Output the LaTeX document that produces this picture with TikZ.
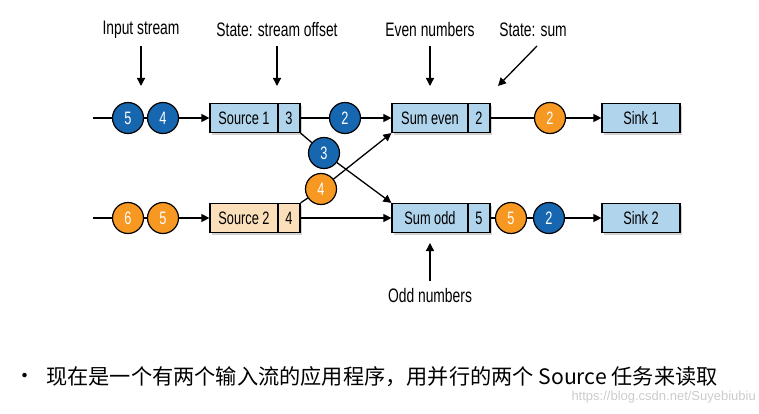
\documentclass[tikz,border=0pt]{standalone}
\usepackage{fontspec}
\setmainfont[FakeStretch=0.71]{Liberation Sans}
\newfontfamily\cjk{Noto Sans CJK SC}
\newfontfamily\wmfont{Liberation Sans}
\usetikzlibrary{arrows.meta,shadows}
\definecolor{bluedot}{RGB}{22,102,176}
\definecolor{orangedot}{RGB}{246,152,34}
\definecolor{boxblue}{RGB}{176,212,236}
\definecolor{boxpeach}{RGB}{251,222,186}
\begin{document}
\begin{tikzpicture}[x=1pt,y=-1pt,
  every node/.style={font=\fontsize{18}{19}\selectfont},
  conn/.style={line width=1.3pt,draw=black},
  arr/.style={conn,-{Triangle[length=8pt,width=8pt]}},
  opbox/.style={draw=black,line width=1.2pt,fill=boxblue,minimum height=29pt,inner sep=0pt,
    drop shadow={shadow xshift=2pt,shadow yshift=-2.5pt,opacity=0.35}},
  peach/.style={opbox,fill=boxpeach},
  dot/.style={circle,draw=black,line width=1.2pt,minimum size=31pt,inner sep=0pt,text=white},
  bdot/.style={dot,fill=bluedot},
  odot/.style={dot,fill=orangedot},
  lbl/.style={inner sep=0pt,font=\fontsize{19.5}{21}\selectfont},
  plain/.style={inner sep=0pt}
]
\useasboundingbox (0,0) rectangle (759,414);
\fill[white] (0,0) rectangle (759,414);

% labels
\node[lbl] (linput) at (141,30) {Input stream};
\node[lbl] (lstate) at (277,30) {State: stream offset};
\node[lbl] (leven) at (430,30) {Even numbers};
\node[lbl] (lsum) at (533,30) {State: sum};
\node[lbl] (lodd) at (430,296) {Odd numbers};
\coordinate (ainput) at (141,46);
\coordinate (astate) at (277,46);
\coordinate (aeven) at (430,46);
\coordinate (asum) at (537,46);
\coordinate (aodd) at (430,281);
\coordinate (einput) at (141,86);
\coordinate (estate) at (277,86);
\coordinate (eeven) at (430,86);
\coordinate (esum) at (498,86);
\coordinate (eodd) at (430,243);
\draw[arr] (ainput) -- (einput);
\draw[arr] (astate) -- (estate);
\draw[arr] (aeven) -- (eeven);
\draw[arr] (asum) -- (esum);
\draw[arr] (aodd) -- (eodd);

% boxes
\node[opbox,minimum width=68pt] (src1) at (244,118) {Source 1};
\node[opbox,minimum width=22pt] (src1s) at (289,118) {3};
\node[peach,minimum width=68pt] (src2) at (244,218) {Source 2};
\node[peach,minimum width=22pt] (src2s) at (289,218) {4};
\node[opbox,minimum width=76pt] (sume) at (430,118) {Sum even};
\node[opbox,minimum width=22pt] (sumes) at (479,118) {2};
\node[opbox,minimum width=76pt] (sumo) at (430,218) {Sum odd};
\node[opbox,minimum width=22pt] (sumos) at (479,218) {5};
\node[opbox,minimum width=78pt] (sink1) at (641,118) {Sink 1};
\node[opbox,minimum width=78pt] (sink2) at (641,218) {Sink 2};

% dots
\node[bdot] (t5) at (128,118) {5};
\node[bdot] (t4) at (163,118) {4};
\node[odot] (b6) at (128,218) {6};
\node[odot] (b5) at (163,218) {5};
\node[bdot] (m2) at (345,118) {2};
\node[bdot] (m3) at (324,153) {3};
\node[odot] (m4) at (321,189) {4};
\node[odot] (e2) at (550,118) {2};
\node[odot] (o5) at (511,218) {5};
\node[bdot] (o2) at (549,218) {2};
\coordinate (in1) at (93,118);
\coordinate (in2) at (93,218);

% connectors
\draw[conn] (in1) -- (t5);
\draw[conn] (t5) -- (t4);
\draw[arr] (t4) -- (src1.west);
\draw[conn] (in2) -- (b6);
\draw[conn] (b6) -- (b5);
\draw[arr] (b5) -- (src2.west);
\draw[conn] (src1s.east) -- (m2);
\draw[arr] (m2) -- (sume.west);
\draw[conn] (src1s.south east) -- (m3);
\draw[arr] (m3) -- (sumo.north west);
\draw[conn] (src2s.north east) -- (m4);
\draw[arr] (m4) -- (sume.south west);
\draw[arr] (src2s.east) -- (sumo.west);
\draw[conn] (sumes.east) -- (e2);
\draw[arr] (e2) -- (sink1.west);
\draw[conn] (sumos.east) -- (o5);
\draw[conn] (o5) -- (o2);
\draw[arr] (o2) -- (sink2.west);

% bullet text
\node[plain,anchor=west] (bullet) at (14,378) {\cjk\fontsize{21}{23}\selectfont •};
\node[plain,anchor=west] (caption) at (46,377) {\cjk\fontsize{21.2}{23}\selectfont 现在是一个有两个输入流的应用程序，用并行的两个 Source 任务来读取};
\node[plain,anchor=east,text=black!20] (wm) at (756,397) {\wmfont\fontsize{13}{15}\selectfont https://blog.csdn.net/Suyebiubiu};
\end{tikzpicture}
\end{document}
